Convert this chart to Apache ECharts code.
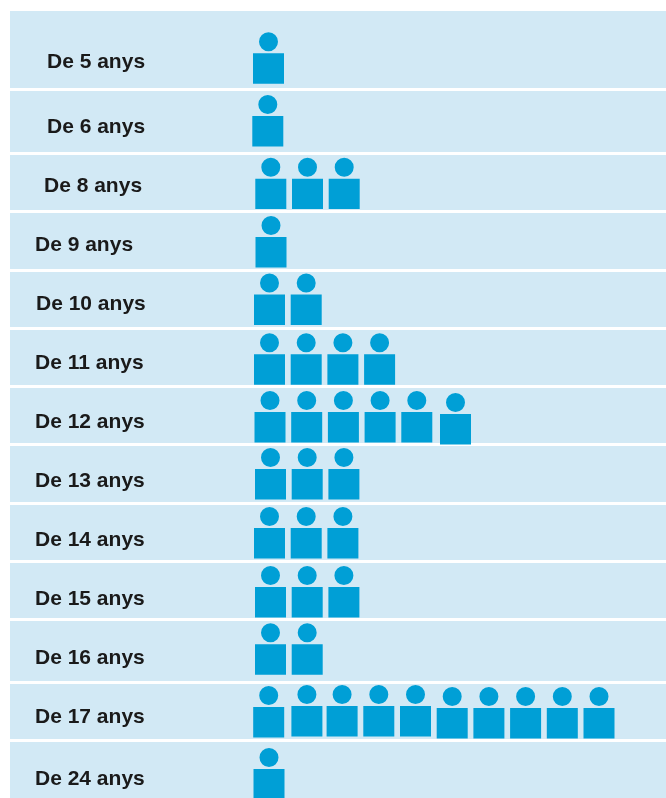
<!DOCTYPE html>
<html>
<head>
<meta charset="utf-8">
<title>Anys</title>
<style>
  html, body { margin: 0; padding: 0; background: #fff; }
  #main { width: 666px; height: 798px; }
</style>
<script src="https://cdn.jsdelivr.net/npm/echarts@6/dist/echarts.min.js"></script>
</head>
<body>
<div id="main"></div>
<script>
// data
var categories = ['De 5 anys', 'De 6 anys', 'De 8 anys', 'De 9 anys', 'De 10 anys', 'De 11 anys', 'De 12 anys',
  'De 13 anys', 'De 14 anys', 'De 15 anys', 'De 16 anys', 'De 17 anys', 'De 24 anys'];
var counts = [1, 1, 3, 1, 2, 4, 6, 3, 3, 3, 2, 10, 1];

// layout, the rows of the original are not evenly spaced
var bandTop = [11, 91, 155, 213, 272, 330, 388, 446, 505, 563, 621, 684, 742];
var bandBottom = [88, 152, 210, 269, 327, 385, 443, 502, 560, 618, 681, 739, 798];
var labelLeft = [47, 47, 44, 35, 36, 35, 35, 35, 35, 35, 35, 35, 35];
var labelMiddle = [62, 127, 186, 245, 304, 363, 422, 481, 540, 599, 658, 717, 779];
var iconLeft = [253, 252.3, 255.3, 255.5, 254, 254, 254.5, 255, 254, 255, 255, 253.2, 253.5];
var iconTop = [32.3, 95, 157.7, 216, 273.5, 333.3, 391, 448, 507, 566, 623.3, 686, 748];
// single icons that sit off the row in the original: row -> person -> [dx, dy]
var nudges = {
  6: { 5: [2, 2] },
  11: { 1: [1.5, -1], 2: [0, -1], 3: [0, -1], 4: [0, -1], 5: [0, 1], 6: [0, 1], 7: [0, 1], 8: [0, 1], 9: [0, 1] }
};

var STEP = 36.7;
var ICON_W = 31;
var ICON_H = 51.4;
var BAND_LEFT = 10;
var BAND_WIDTH = 656;
var LABEL_LINE = 24;
var PERSON = 'path://M6 9.5a9.5 9.5 0 1 0 19 0a9.5 9.5 0 1 0 -19 0Z M0 21H31V51.4H0Z';

var axisMin = -(253 + ICON_W / 2 - BAND_LEFT) / STEP;

var grids = [], xAxes = [], yAxes = [], seriesList = [];

categories.forEach(function (name, row) {
  var top = bandTop[row];
  var height = bandBottom[row] - top;
  var middle = top + height / 2;

  grids.push({
    left: BAND_LEFT, top: top, width: BAND_WIDTH, height: height,
    show: true, backgroundColor: '#d2e9f5', borderWidth: 0
  });
  xAxes.push({
    gridIndex: row, type: 'value', show: false,
    min: axisMin, max: axisMin + BAND_WIDTH / STEP
  });
  yAxes.push({
    gridIndex: row, type: 'category', data: [name],
    axisLine: { show: false }, axisTick: { show: false }, splitLine: { show: false },
    axisLabel: {
      inside: true, align: 'left', margin: labelLeft[row] - BAND_LEFT,
      color: '#1a1a1a', fontFamily: 'Liberation Sans', fontWeight: 'bold', fontSize: 21,
      // padding only moves plain text when it is top aligned
      verticalAlign: 'top', lineHeight: LABEL_LINE,
      padding: [labelMiddle[row] - middle - LABEL_LINE / 2, 0, 0, 0]
    }
  });

  var persons = [];
  for (var i = 0; i < counts[row]; i++) {
    var nudge = (nudges[row] && nudges[row][i]) || [0, 0];
    persons.push({
      value: [i, name],
      symbolOffset: [
        iconLeft[row] - 253 + nudge[0],
        iconTop[row] + ICON_H / 2 - middle + nudge[1]
      ]
    });
  }
  seriesList.push({
    type: 'scatter', xAxisIndex: row, yAxisIndex: row,
    symbol: PERSON, symbolSize: [ICON_W, ICON_H], symbolKeepAspect: false,
    itemStyle: { color: '#009fd6', opacity: 1 },
    silent: true, data: persons
  });
});

var myChart = echarts.init(document.getElementById('main'), null, { renderer: 'canvas' });
myChart.setOption({
  animation: false,
  backgroundColor: '#fff',
  tooltip: { show: false },
  grid: grids,
  xAxis: xAxes,
  yAxis: yAxes,
  series: seriesList
});
</script>
</body>
</html>
